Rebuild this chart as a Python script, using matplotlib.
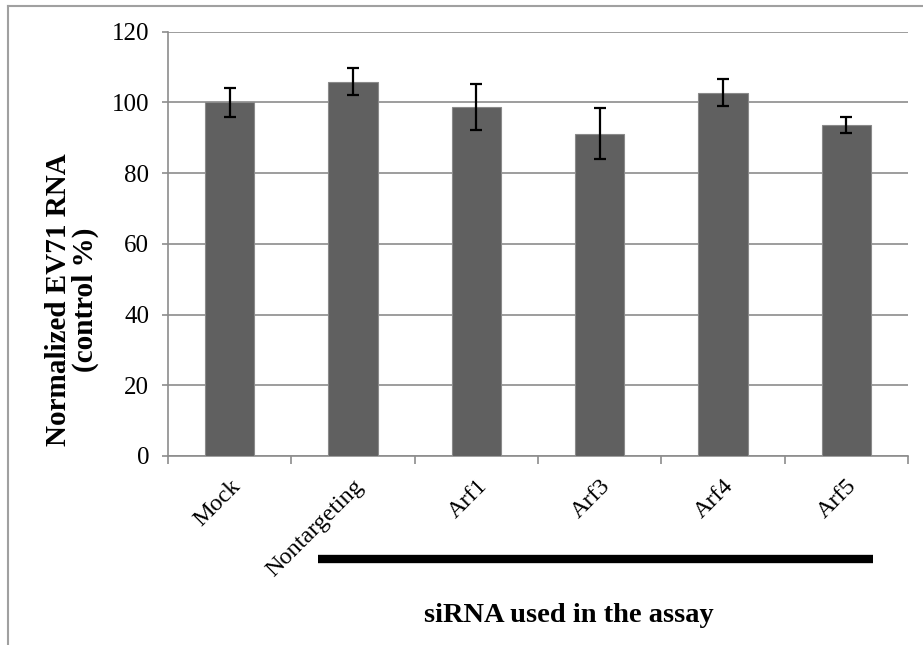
import matplotlib.pyplot as plt
import matplotlib.transforms as mtransforms
import numpy as np

categories = ['Mock', 'Nontargeting', 'Arf1', 'Arf3', 'Arf4', 'Arf5']
values = [100.0, 105.9, 98.7, 91.1, 102.8, 93.6]
errors = [4.2, 3.8, 6.6, 7.2, 3.7, 2.3]
yticks = [0, 20, 40, 60, 80, 100, 120]

plt.rcParams['font.family'] = ['Liberation Serif', 'DejaVu Serif']
grid_col = '#8c8c8c'

fig = plt.figure(figsize=(9.23, 6.45), dpi=100)
ax = fig.add_axes([168 / 923, 1 - 456 / 645, 740 / 923, 424.3 / 645])

x = np.arange(len(categories))
ax.bar(x, values, width=0.4, color='#606060', edgecolor='#8a8a8a', linewidth=0.8, zorder=3)
ax.errorbar(x, values, yerr=errors, fmt='none', ecolor='black', elinewidth=1.6,
            capsize=4.5, capthick=1.6, zorder=4)

ax.set_xlim(-0.5, len(categories) - 0.5)
ax.set_ylim(0, 120)
ax.set_yticks(yticks)
ax.yaxis.grid(True, color=grid_col, linewidth=1.2, zorder=0)
ax.set_axisbelow(True)

for s in ['top', 'right']:
    ax.spines[s].set_visible(False)
for s in ['left', 'bottom']:
    ax.spines[s].set_color(grid_col)
    ax.spines[s].set_linewidth(1.2)

ax.tick_params(axis='y', length=4.5, width=1.2, color=grid_col, labelsize=18, pad=9)
ax.set_xticks(x)
ax.set_xticks(np.arange(len(categories) + 1) - 0.5, minor=True)
ax.tick_params(axis='x', which='major', length=0, pad=14)
ax.tick_params(axis='x', which='minor', length=6, width=1.2, color=grid_col)
ax.set_xticklabels(categories, rotation=45, ha='right', rotation_mode='anchor', fontsize=17.5)

fig.text(72 / 923, 1 - 300 / 645, 'Normalized EV71 RNA\n(control %)', fontsize=21,
         fontweight='bold', rotation=90, ha='center', va='center', linespacing=0.95)

# bar under the siRNA conditions
trans = mtransforms.blended_transform_factory(ax.transData, ax.transAxes)
ax.plot([0.72, 5.22], [-0.243, -0.243], color='black', linewidth=6, transform=trans,
        clip_on=False, solid_capstyle='butt')
fig.text(569 / 923, 1 - 615 / 645, 'siRNA used in the assay', fontsize=20.5,
         fontweight='bold', ha='center', va='center')

# frame lines of the original figure box
fig.add_artist(plt.Line2D([8 / 923, 1], [1 - 6 / 645, 1 - 6 / 645], color='#a0a0a0',
                          linewidth=1.5, transform=fig.transFigure))
fig.add_artist(plt.Line2D([8 / 923, 8 / 923], [0, 1 - 6 / 645], color='#a0a0a0',
                          linewidth=1.5, transform=fig.transFigure))

fig.savefig('out.png', dpi=100)
